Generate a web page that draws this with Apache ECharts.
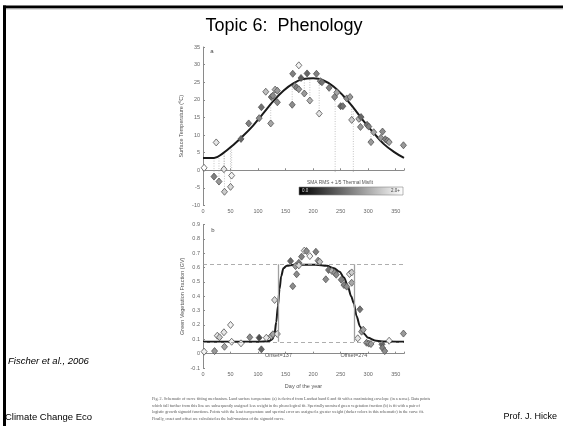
<!DOCTYPE html>
<html>
<head>
<meta charset="utf-8">
<title>Topic 6: Phenology</title>
<script src="https://cdn.jsdelivr.net/npm/echarts@6.0.0/dist/echarts.min.js"></script>
<style>
html, body { margin: 0; padding: 0; background: #fff; }
#chart { width: 563px; height: 426px; }
</style>
</head>
<body>
<div id="chart"></div>
<script>
// day of year tick labels (both panels)
var dayTicks = [0, 50, 100, 150, 200, 250, 300, 350];

// (a) land surface temperature: [day, degC, misfit]
var tempPoints = [
	[2, 0.7, 2.0], [20, -1.8, 1.0], [24, 7.9, 1.8], [29, -3.2, 1.2], [38, 0.3, 1.8],
	[39, -6.1, 1.6], [50, -4.7, 1.7], [52, -1.5, 1.9], [69, 8.9, 0.8], [83, 13.3, 1.0],
	[102, 14.8, 1.1], [106, 17.9, 0.9], [114, 22.3, 1.5], [123, 13.3, 1.3], [124, 20.8, 0.9],
	[127, 21.2, 1.1], [131, 22.9, 1.4], [135, 22.6, 1.2], [135, 19.3, 1.1], [162, 18.6, 1.1],
	[163, 27.4, 1.0], [167, 23.9, 1.2], [170, 23.5, 1.0], [174, 29.8, 1.9], [174, 23.0, 1.2],
	[178, 26.2, 0.7], [184, 21.8, 1.2], [189, 27.5, 0.8], [194, 19.8, 1.4], [206, 27.4, 1.0],
	[211, 16.1, 1.8], [213, 25.3, 1.1], [216, 25.0, 0.9], [229, 23.4, 1.0], [239, 20.8, 1.1],
	[243, 22.1, 1.3], [250, 18.2, 0.8], [254, 18.2, 0.9], [261, 20.4, 1.1], [267, 20.8, 1.2],
	[270, 14.3, 1.6], [283, 14.6, 1.4], [287, 15.1, 0.8], [286, 12.3, 1.2], [298, 12.9, 0.9],
	[301, 12.4, 1.0], [305, 8.0, 1.2], [310, 10.8, 1.3], [323, 9.2, 1.2], [326, 11.0, 1.1],
	[331, 8.8, 1.0], [335, 8.4, 1.1], [338, 8.0, 1.3], [364, 7.1, 1.2]
];
// fitted envelope
var tempFit = [
	[0, 3.5], [20, 3.5], [36, 4.8], [55, 7.2], [73, 9.8], [91, 12.7], [109, 16.1],
	[128, 19.7], [146, 22.6], [164, 24.7], [182, 25.9], [200, 26.1], [219, 25.5],
	[237, 23.8], [255, 21.1], [273, 17.8], [291, 14.1], [310, 10.6], [328, 7.5],
	[346, 5.3], [365, 3.5]
];
// dotted residual lines: [day, low, high]
var tempResid = [
	[20, -1.8, 3.5], [29, -3.2, 3.6], [38, 0.3, 4.6], [39, -6.1, 4.7], [50, -4.7, 6.4],
	[52, -1.5, 6.6], [123, 13.3, 18.8], [135, 19.3, 21.2], [162, 18.6, 24.5],
	[184, 21.8, 25.9], [194, 19.8, 26.1], [211, 16.1, 25.8], [240, -0.5, 23.4],
	[270, 14.3, 18.3], [273, -0.5, 17.8], [286, 12.3, 15.1], [305, 8.0, 11.7]
];

// (b) green vegetation fraction: [day, GV, misfit]
var gvPoints = [
	[2, 0.014, 1.9], [21, 0.018, 1.2], [26, 0.125, 1.8], [30, 0.114, 1.6], [38, 0.149, 1.8],
	[39, 0.048, 1.3], [50, 0.20, 1.9], [52, 0.083, 1.9], [69, 0.072, 1.9], [85, 0.114, 1.1],
	[102, 0.111, 0.6], [106, 0.03, 0.8], [115, 0.111, 1.8], [124, 0.123, 1.4], [127, 0.135, 1.3],
	[130, 0.374, 1.7], [135, 0.137, 1.8], [159, 0.645, 0.8], [163, 0.47, 1.1], [168, 0.61, 1.2],
	[170, 0.553, 1.1], [174, 0.633, 1.0], [174, 0.615, 1.7], [179, 0.676, 1.0], [184, 0.718, 1.8],
	[188, 0.715, 1.1], [194, 0.68, 1.9], [205, 0.71, 1.0], [209, 0.648, 1.1], [212, 0.64, 1.5],
	[223, 0.518, 1.1], [228, 0.583, 0.9], [234, 0.576, 1.4], [239, 0.563, 1.2], [242, 0.55, 1.1],
	[251, 0.515, 1.0], [256, 0.478, 1.0], [261, 0.467, 1.1], [266, 0.555, 1.8], [270, 0.566, 1.6],
	[270, 0.494, 1.3], [281, 0.107, 1.8], [285, 0.309, 0.9], [288, 0.153, 1.2], [291, 0.167, 1.3],
	[297, 0.076, 1.1], [301, 0.07, 1.1], [305, 0.067, 1.2], [325, 0.065, 0.8], [326, 0.04, 1.0],
	[330, 0.018, 1.1], [338, 0.09, 1.9], [364, 0.140, 1.2]
];
// fitted double sigmoid
var gvFit = [
	[0, 0.083], [100, 0.083], [120, 0.088], [126, 0.1], [130, 0.14], [133, 0.22], [136, 0.33],
	[139, 0.45], [142, 0.54], [146, 0.595], [152, 0.613], [165, 0.62], [205, 0.62], [225, 0.612],
	[238, 0.595], [248, 0.57], [256, 0.53], [263, 0.47], [269, 0.4], [274, 0.35], [279, 0.26],
	[285, 0.19], [292, 0.14], [300, 0.11], [312, 0.092], [325, 0.085], [365, 0.083]
];
var gvLevels = [0.083, 0.623];
var onsetDay = 137;
var offsetDay = 274;

var captionLines = [
	'Fig. 2. Schematic of curve fitting mechanism. Land surface temperature (a) is derived from Landsat band 6 and fit with a maximizing envelope (in a sense). Data points',
	'which fall further from this line are subsequently assigned less weight in the phenological fit. Spectrally unmixed green vegetation fraction (b) is fit with a pair of',
	'logistic growth sigmoid functions. Points with the least temperature and spectral error are assigned a greater weight (darker colors in this schematic) in the curve fit.',
	'Finally, onset and offset are calculated as the half-maxima of the sigmoid curve.'
];

var FONT = '"Liberation Sans", Arial, sans-serif';
var axisGrey = '#8a8a8a';
var labelGrey = '#666';

function dayAxis(idx, name) {
	return {
		type: 'value', gridIndex: idx, min: 0, max: 365, interval: 50,
		name: name || '', nameLocation: 'middle', nameGap: 15,
		nameTextStyle: { fontSize: 5.5, color: '#555', fontFamily: FONT },
		axisLine: { lineStyle: { color: axisGrey } },
		axisTick: { inside: true, length: 2, lineStyle: { color: axisGrey } },
		axisLabel: {
			fontSize: 5.5, color: labelGrey, margin: 3, fontFamily: FONT,
			formatter: function (v) { return dayTicks.indexOf(v) >= 0 ? String(v) : ''; }
		},
		splitLine: { show: false }
	};
}

function valueAxis(idx, min, max, step, name, gap) {
	return {
		type: 'value', gridIndex: idx, min: min, max: max, interval: step,
		name: name, nameLocation: 'middle', nameGap: gap,
		nameTextStyle: { fontSize: 5.5, color: '#555', fontFamily: FONT },
		axisLine: { show: true, lineStyle: { color: axisGrey } },
		axisTick: { show: true, inside: true, length: 2, lineStyle: { color: axisGrey } },
		axisLabel: { fontSize: 5.5, color: labelGrey, margin: 3, fontFamily: FONT },
		splitLine: { show: false }
	};
}

var chart = echarts.init(document.getElementById('chart'), null, { renderer: 'canvas' });

var graphics = [
	// slide frame
	{ type: 'rect', shape: { x: 3, y: 5.5, width: 560, height: 3 }, style: { fill: '#000' } },
	{ type: 'rect', shape: { x: 6, y: 8.5, width: 557, height: 1 }, style: { fill: '#bbb' } },
	{ type: 'rect', shape: { x: 3, y: 5.5, width: 3, height: 421 }, style: { fill: '#000' } },
	{ type: 'text', x: 284, y: 26, style: { text: 'Topic 6:  Phenology', fontSize: 18, fontFamily: FONT, fill: '#000', align: 'center', verticalAlign: 'middle' } },
	// panel letters
	{ type: 'text', x: 212, y: 51, style: { text: 'a', fontSize: 6, fontFamily: FONT, fill: '#444', align: 'center', verticalAlign: 'middle' } },
	{ type: 'text', x: 213, y: 230, style: { text: 'b', fontSize: 6, fontFamily: FONT, fill: '#444', align: 'center', verticalAlign: 'middle' } },
	// misfit colour bar
	{ type: 'text', x: 340, y: 182.5, style: { text: 'SMA RMS + 1/5 Thermal Misfit', fontSize: 4.8, fontFamily: FONT, fill: '#555', align: 'center', verticalAlign: 'middle' } },
	{
		type: 'rect', shape: { x: 299, y: 187, width: 104, height: 8 },
		style: {
			stroke: '#888', lineWidth: 0.6,
			fill: new echarts.graphic.LinearGradient(0, 0, 1, 0, [
				{ offset: 0, color: '#000' }, { offset: 1, color: '#fff' }
			])
		}
	},
	{ type: 'text', x: 302, y: 191, style: { text: '0.0', fontSize: 4.5, fontFamily: FONT, fill: '#ddd', verticalAlign: 'middle' } },
	{ type: 'text', x: 400, y: 191, style: { text: '2.0+', fontSize: 4.5, fontFamily: FONT, fill: '#444', align: 'right', verticalAlign: 'middle' } },
	// footer
	{ type: 'text', x: 8, y: 361, style: { text: 'Fischer et al., 2006', fontSize: 9.5, fontStyle: 'italic', fontFamily: FONT, fill: '#000', verticalAlign: 'middle' } },
	{ type: 'text', x: 5, y: 417, style: { text: 'Climate Change Eco', fontSize: 9.5, fontFamily: FONT, fill: '#000', verticalAlign: 'middle' } },
	{ type: 'text', x: 557, y: 417, style: { text: 'Prof. J. Hicke', fontSize: 9, fontFamily: FONT, fill: '#000', align: 'right', verticalAlign: 'middle' } }
];
for (var i = 0; i < captionLines.length; i++) {
	graphics.push({
		type: 'text', x: 152, y: 399 + i * 6.7,
		style: { text: captionLines[i], fontSize: 4.15, fontFamily: '"Liberation Serif", serif', fill: '#555', verticalAlign: 'middle' }
	});
}

var lineLabel = { show: true, position: 'start', distance: 11, fontSize: 5.5, color: '#555', fontFamily: FONT };

var option = {
	animation: false,
	backgroundColor: '#fff',
	grid: [
		{ left: 203, top: 47, width: 201, height: 158.5 },
		{ left: 203, top: 224.5, width: 201, height: 143.5 }
	],
	xAxis: [dayAxis(0), dayAxis(1, 'Day of the year')],
	yAxis: [
		valueAxis(0, -10, 35, 5, 'Surface Temperature (ºC)', 19),
		valueAxis(1, -0.1, 0.9, 0.1, 'Green Vegetation Fraction (GV)', 18)
	],
	visualMap: {
		show: false, type: 'continuous', seriesIndex: [2, 5], dimension: 2,
		min: 0, max: 2, inRange: { color: ['#000', '#fff'] }
	},
	graphic: graphics,
	series: [
		{
			type: 'custom', xAxisIndex: 0, yAxisIndex: 0, z: 1, silent: true,
			data: tempResid, encode: { x: 0, y: [1, 2] },
			renderItem: function (params, api) {
				var p1 = api.coord([api.value(0), api.value(1)]);
				var p2 = api.coord([api.value(0), api.value(2)]);
				return {
					type: 'line',
					shape: { x1: p1[0], y1: p1[1], x2: p2[0], y2: p2[1] },
					style: { stroke: '#aaa', lineWidth: 0.7, lineDash: [1, 1.5] }
				};
			}
		},
		{
			type: 'line', xAxisIndex: 0, yAxisIndex: 0, z: 2, data: tempFit,
			smooth: 0.4, showSymbol: false, symbol: 'none',
			lineStyle: { color: '#1a1a1a', width: 2 }
		},
		{
			type: 'scatter', xAxisIndex: 0, yAxisIndex: 0, z: 3, data: tempPoints,
			symbol: 'diamond', symbolSize: [6, 7],
			itemStyle: { borderColor: '#555', borderWidth: 0.8, opacity: 1 }
		},
		{
			type: 'line', xAxisIndex: 1, yAxisIndex: 1, z: 2, data: gvFit,
			smooth: 0.3, smoothMonotone: 'x', showSymbol: false, symbol: 'none',
			lineStyle: { color: '#1a1a1a', width: 2 },
			markLine: {
				silent: true, symbol: 'none', animation: false,
				label: { show: false },
				data: [
					{ yAxis: gvLevels[0], lineStyle: { type: [4, 3], color: '#999', width: 0.8 } },
					{ yAxis: gvLevels[1], lineStyle: { type: [4, 3], color: '#999', width: 0.8 } },
					[
						{ coord: [onsetDay, gvLevels[0]], label: echarts.util.extend({ formatter: 'Onset=' + onsetDay }, lineLabel), lineStyle: { type: 'solid', color: '#a0a0a0', width: 1.3 } },
						{ coord: [onsetDay, gvLevels[1]] }
					],
					[
						{ coord: [offsetDay, gvLevels[0]], label: echarts.util.extend({ formatter: 'Offset=' + offsetDay }, lineLabel), lineStyle: { type: 'solid', color: '#a0a0a0', width: 1.3 } },
						{ coord: [offsetDay, gvLevels[1]] }
					]
				]
			}
		},
		{
			type: 'line', xAxisIndex: 1, yAxisIndex: 1, data: [], showSymbol: false
		},
		{
			type: 'scatter', xAxisIndex: 1, yAxisIndex: 1, z: 3, data: gvPoints,
			symbol: 'diamond', symbolSize: [6, 7],
			itemStyle: { borderColor: '#555', borderWidth: 0.8, opacity: 1 }
		}
	]
};

chart.setOption(option);
</script>
</body>
</html>
